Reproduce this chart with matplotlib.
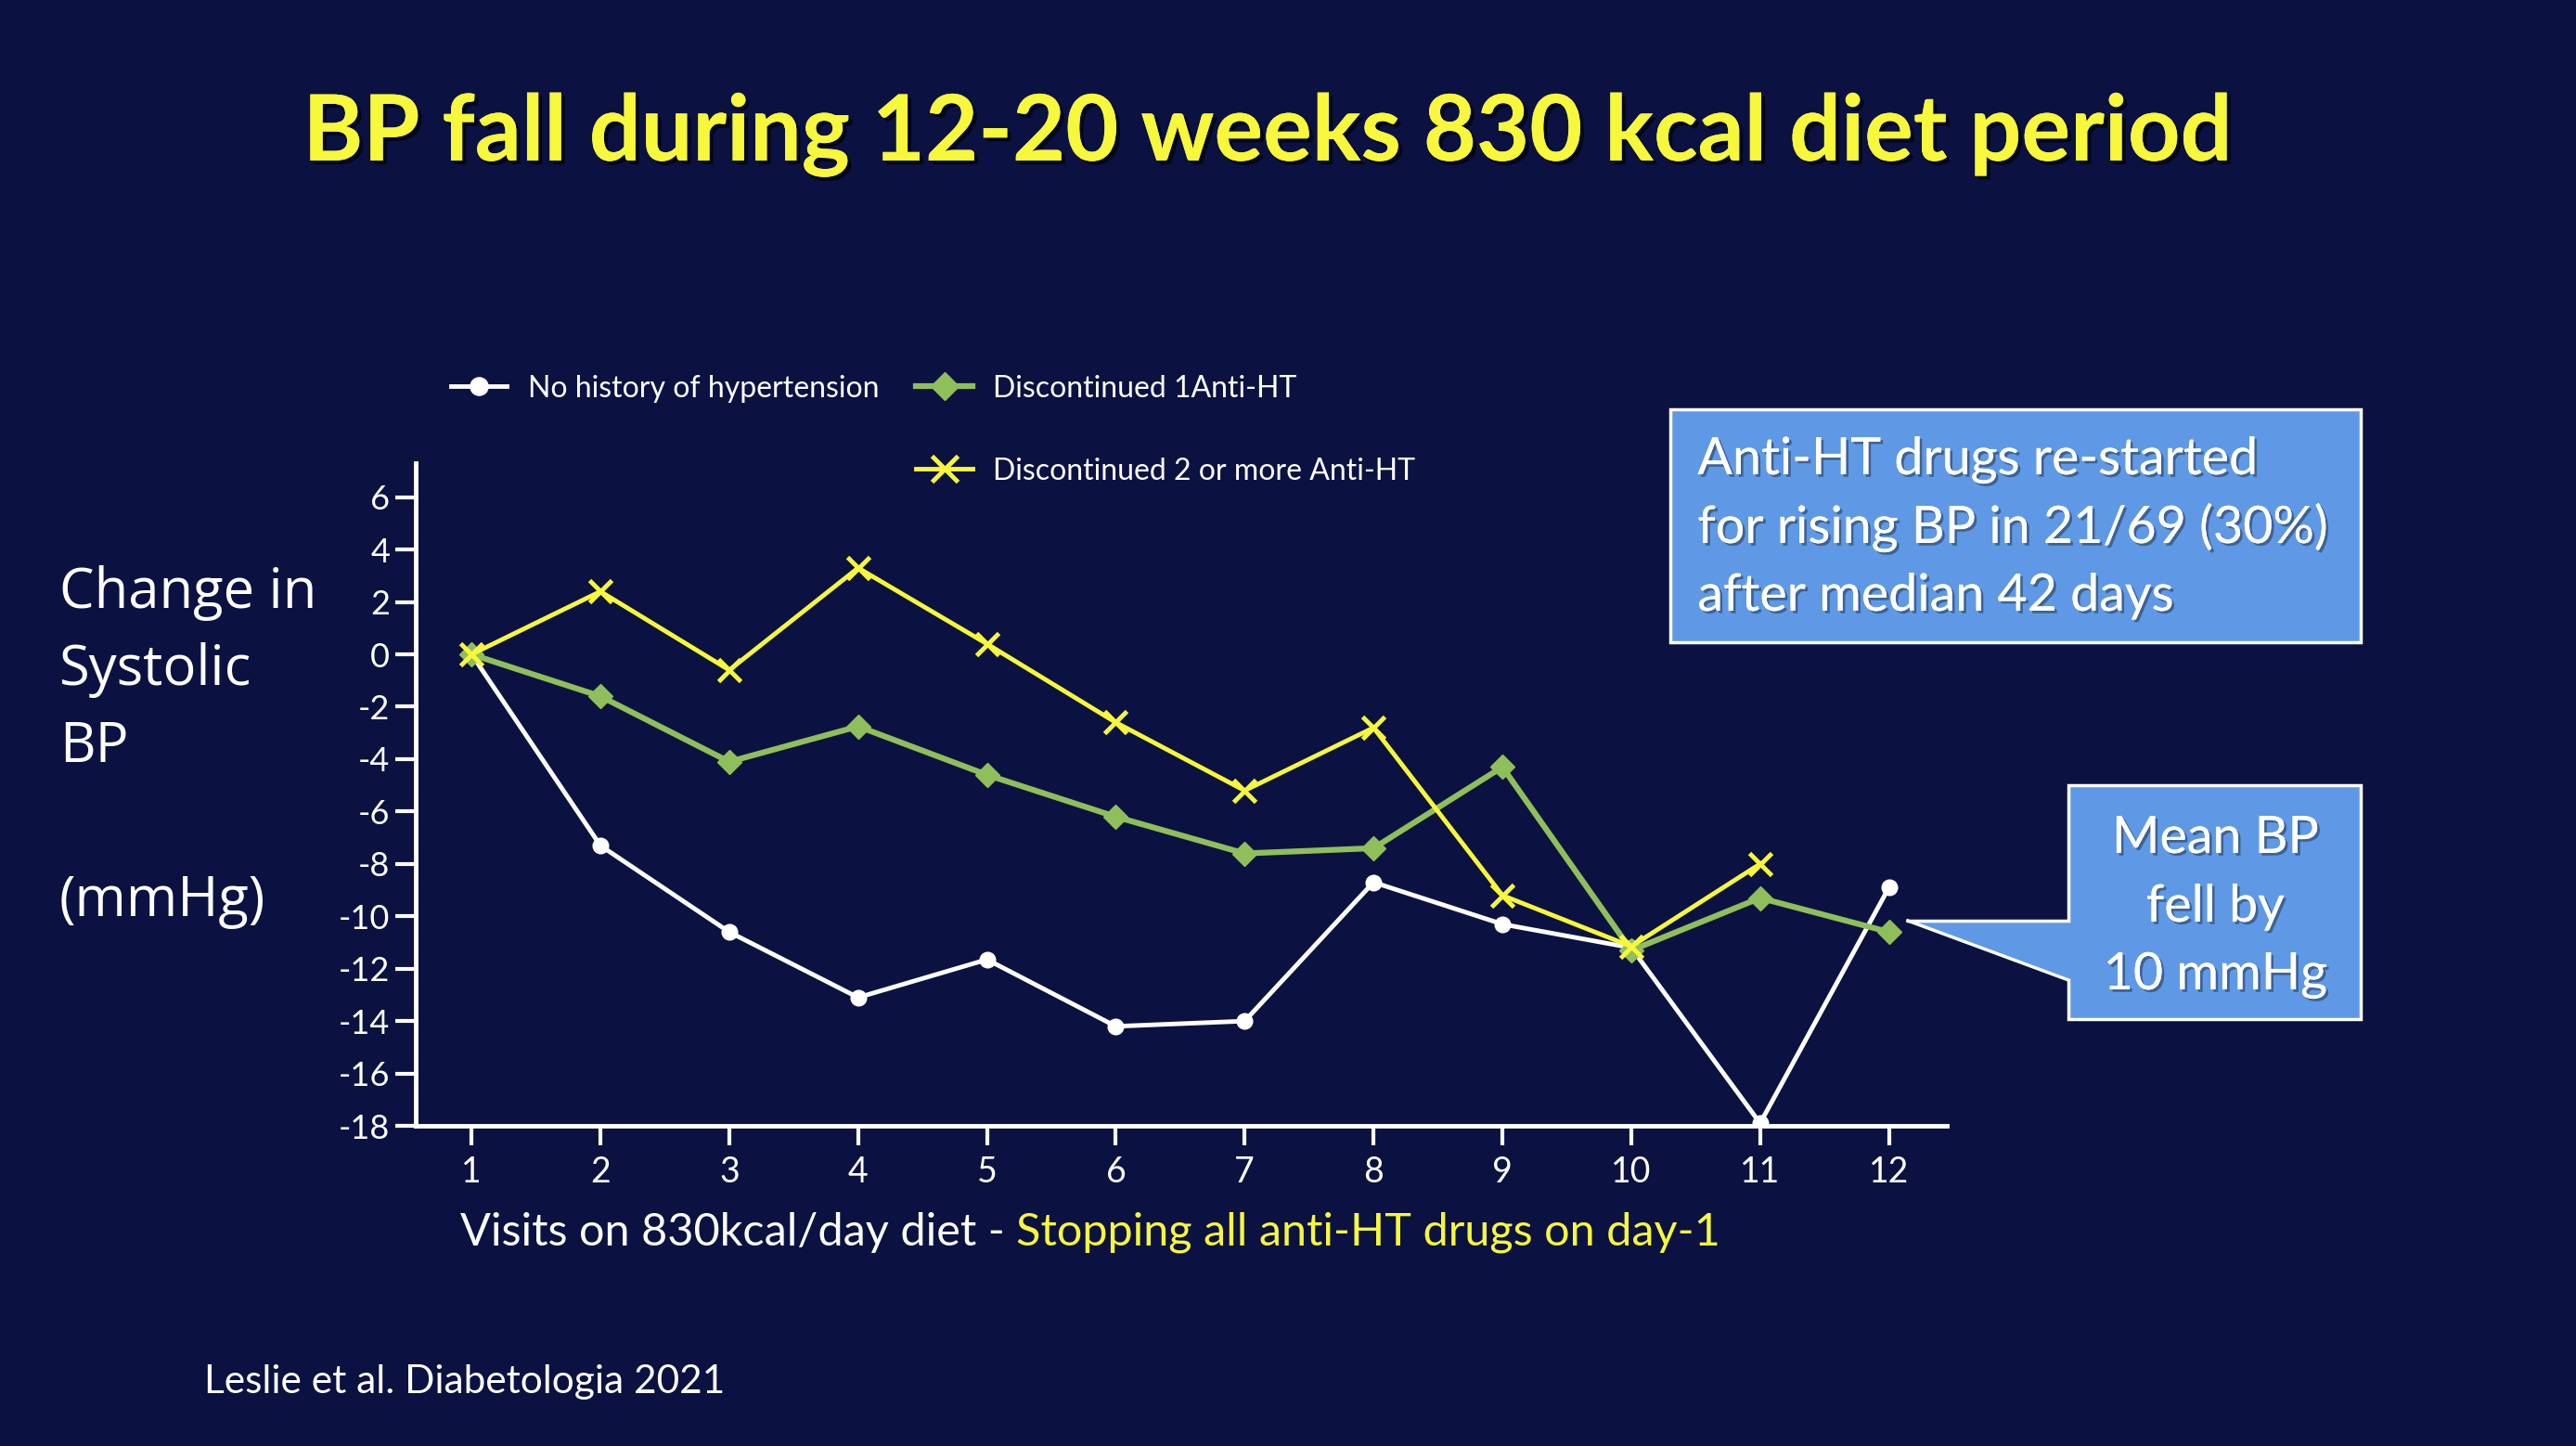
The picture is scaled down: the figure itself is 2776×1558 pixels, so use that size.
import matplotlib
matplotlib.use('Agg')
import matplotlib.pyplot as plt
from matplotlib.lines import Line2D
from matplotlib.patches import Rectangle, Polygon
import matplotlib.patheffects as pe

plt.rcParams['axes.unicode_minus'] = False

# ---------------- data ----------------
visits = list(range(1, 13))
no_history = [0, -7.3, -10.6, -13.1, -11.65, -14.2, -14.0, -8.7, -10.3, -11.2, -17.9, -8.9]
disc_one = [0, -1.6, -4.1, -2.75, -4.6, -6.2, -7.6, -7.4, -4.3, -11.3, -9.3, -10.6]
visits_two = list(range(1, 12))
disc_two = [0, 2.4, -0.6, 3.3, 0.4, -2.6, -5.2, -2.8, -9.2, -11.15, -8.0]
yticks = list(range(-18, 7, 2))
series_labels = ["No history of hypertension", "Discontinued 1Anti-HT",
                 "Discontinued 2 or more Anti-HT"]

title = "BP fall during 12-20 weeks 830 kcal diet period"
ylabel_lines = ["Change in", "Systolic", "BP", "(mmHg)"]
xlabel_white = "Visits on 830kcal/day diet - "
xlabel_yellow = "Stopping all anti-HT drugs on day-1"
box1_lines = ["Anti-HT drugs re-started", "for rising BP in 21/69 (30%)", "after median 42 days"]
box2_lines = ["Mean BP", "fell by", "10 mmHg"]
citation = "Leslie et al. Diabetologia 2021"

# ---------------- style ----------------
BG = '#0b1242'
WHITE = '#ffffff'
GREEN = '#8fbf5a'
YELLOW = '#f7f73c'
BOXC = '#5f99e6'
FONT = 'Lato'

fig = plt.figure(figsize=(27.76, 15.58), dpi=100, facecolor=BG)
ax = fig.add_axes([0.1614, 0.2214, 0.7558 - 0.1614, 0.6797 - 0.2214])
ax.set_facecolor(BG)

ax.plot(visits, no_history, color=WHITE, lw=3.5, marker='o', ms=12,
        mfc=WHITE, mec=WHITE, label=series_labels[0], zorder=3)
ax.plot(visits, disc_one, color=GREEN, lw=4.5, marker='D', ms=13,
        mfc=GREEN, mec=GREEN, label=series_labels[1], zorder=4)
ax.plot(visits_two, disc_two, color=YELLOW, lw=3.5, marker='x', ms=17,
        mew=3.5, label=series_labels[2], zorder=5)

ax.set_xlim(0.567, 12.45)
ax.set_ylim(-18, 7.3)
ax.set_xticks(visits)
ax.set_yticks(yticks)
for s in ['top', 'right']:
    ax.spines[s].set_visible(False)
for s in ['left', 'bottom']:
    ax.spines[s].set_color(WHITE)
    ax.spines[s].set_linewidth(3.5)
ax.tick_params(axis='y', colors=WHITE, length=16, width=3, pad=4,
               labelsize=26, direction='out')
ax.tick_params(axis='x', colors=WHITE, length=15, width=3, pad=8,
               labelsize=27, direction='out')
for lab in ax.get_xticklabels() + ax.get_yticklabels():
    lab.set_fontfamily(FONT)

# legend: two columns, blank slot under first entry
h = ax.get_lines()
blank = Line2D([], [], alpha=0)
leg = fig.legend([h[0], blank, h[1], h[2]],
                 [series_labels[0], '', series_labels[1], series_labels[2]],
                 ncol=2, loc='upper left', bbox_to_anchor=(0.175, 0.741),
                 frameon=False, prop={'family': FONT, 'size': 23},
                 handlelength=1.9, handletextpad=0.7, columnspacing=1.25,
                 labelspacing=1.85, borderpad=0, borderaxespad=0, markerscale=1.15)
for t in leg.get_texts():
    t.set_color(WHITE)

# title
shadow = [pe.withSimplePatchShadow(offset=(3, -3), shadow_rgbFace='black', alpha=0.6), pe.Normal()]
fig.text(0.492, 0.889, title, ha='center', va='baseline', color=YELLOW,
         fontsize=71, fontweight='bold', family=FONT, path_effects=shadow)

# y label lines
ybases = [655, 738, 821, 987]
for line, yb in zip(ylabel_lines, ybases):
    fig.text(0.023, 1 - yb / 1558, line, ha='left', va='baseline', color=WHITE,
             fontsize=43, family='Open Sans')

# x label, two colours
t1 = fig.text(0.1787, 0.1386, xlabel_white, ha='left', va='baseline', color=WHITE,
              fontsize=35, family=FONT)
ax.annotate(xlabel_yellow, xy=(1, 0), xycoords=t1, ha='left', va='bottom',
            color=YELLOW, fontsize=35, family=FONT, annotation_clip=False)

# citation
fig.text(0.0791, 0.0366, citation, ha='left', va='baseline', color=WHITE,
         fontsize=30.5, family=FONT)

# box 1
fig.patches.append(Rectangle((0.6484, 0.5558), 0.9164 - 0.6484, 0.7169 - 0.5558,
                             transform=fig.transFigure, facecolor=BOXC,
                             edgecolor=WHITE, lw=2.5, zorder=1))
tshadow = [pe.withSimplePatchShadow(offset=(2, -2), shadow_rgbFace='black', alpha=0.35), pe.Normal()]
for line, yb in zip(box1_lines, [511, 585, 658]):
    fig.text(0.659, 1 - yb / 1558, line, ha='left', va='baseline', color=WHITE,
             fontsize=40, family=FONT, path_effects=tshadow, zorder=2)

# box 2 (callout)
fig.patches.append(Rectangle((0.803, 0.2952), 0.9164 - 0.803, 0.4570 - 0.2952,
                             transform=fig.transFigure, facecolor=BOXC,
                             edgecolor=WHITE, lw=2.5, zorder=1))
fig.patches.append(Polygon([(0.7406, 0.3633), (0.8045, 0.3633), (0.8045, 0.3222)],
                           closed=True, transform=fig.transFigure, facecolor=BOXC,
                           edgecolor='none', zorder=2))
fig.lines.append(Line2D([0.7406, 0.803], [0.3633, 0.3633], transform=fig.transFigure,
                        color=WHITE, lw=2.5, zorder=3))
fig.lines.append(Line2D([0.7406, 0.803], [0.3633, 0.3222], transform=fig.transFigure,
                        color=WHITE, lw=2.5, zorder=3))
for line, yb in zip(box2_lines, [919, 993, 1066]):
    fig.text(0.860, 1 - yb / 1558, line, ha='center', va='baseline', color=WHITE,
             fontsize=40, family=FONT, path_effects=tshadow, zorder=4)

fig.savefig('out.png', dpi=100, facecolor=BG)
